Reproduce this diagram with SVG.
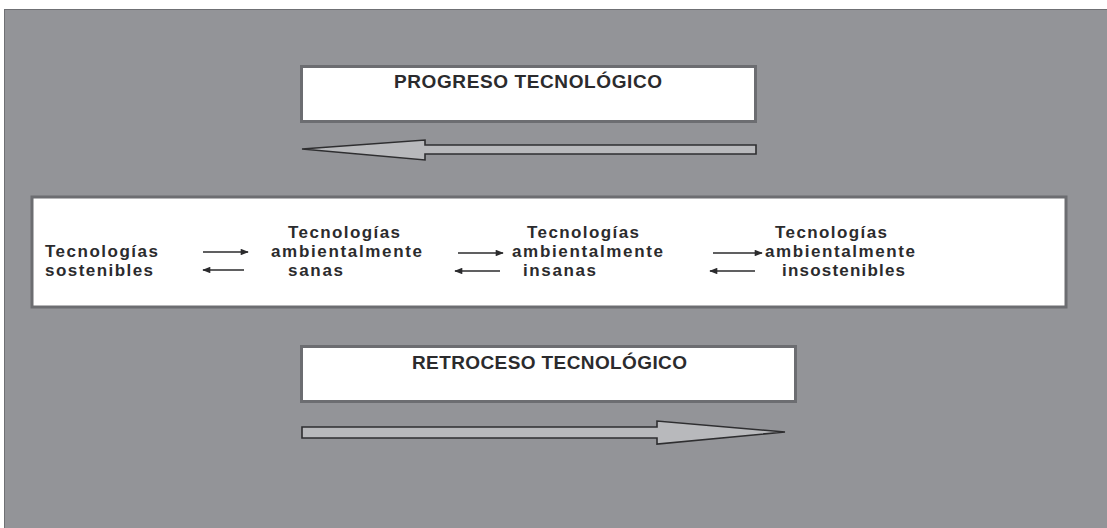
<svg xmlns="http://www.w3.org/2000/svg" width="1107" height="528" viewBox="0 0 1107 528">
<defs>
<style>
.bg{fill:#939498}
.box{fill:#ffffff;stroke:#6c6d71;stroke-width:3}
.big{fill:#b8b9bc;stroke:#2e2e30;stroke-width:1.6;stroke-linejoin:miter}
.t{font-family:"Liberation Sans",Arial,sans-serif;font-weight:bold;font-size:17px;fill:#2b2b2d}
.h{font-family:"Liberation Sans",Arial,sans-serif;font-weight:bold;font-size:19px;fill:#2b2b2d}
.ar{stroke:#2b2b2d;stroke-width:1.5;fill:none}
</style>
<marker id="ah" viewBox="0 0 10 8" refX="9" refY="4" markerWidth="9" markerHeight="6.5" markerUnits="userSpaceOnUse" orient="auto">
<path d="M0,0 L10,4 L0,8 Z" fill="#2b2b2d"/>
</marker>
</defs>
<rect x="0" y="0" width="1107" height="528" fill="#ffffff"/>
<rect class="bg" x="4" y="9" width="1103" height="519"/>
<line x1="4" y1="9.5" x2="1107" y2="9.5" stroke="#6f7074" stroke-width="1"/>
<line x1="4.5" y1="9" x2="4.5" y2="528" stroke="#6f7074" stroke-width="1"/>

<g id="progreso">
<rect class="box" x="301.5" y="66.5" width="454" height="55"/>
<text class="h" x="394" y="88" textLength="268" lengthAdjust="spacing">PROGRESO TECNOLÓGICO</text>
</g>

<g id="retroceso">
<rect class="box" x="301.5" y="346.5" width="494" height="55"/>
<text class="h" x="412" y="369" textLength="275" lengthAdjust="spacing">RETROCESO TECNOLÓGICO</text>
</g>

<g id="cadena">
<rect class="box" x="32" y="197" width="1034" height="110"/>
</g>

<g id="sostenibles">
<text class="t" x="45" y="257" textLength="113" lengthAdjust="spacing">Tecnologías</text>
<text class="t" x="45" y="276" textLength="108" lengthAdjust="spacing">sostenibles</text>
</g>

<g id="sanas">
<text class="t" x="288" y="238" textLength="112" lengthAdjust="spacing">Tecnologías</text>
<text class="t" x="271" y="257" textLength="151" lengthAdjust="spacing">ambientalmente</text>
<text class="t" x="288" y="276" textLength="55" lengthAdjust="spacing">sanas</text>
</g>

<g id="insanas">
<text class="t" x="527" y="238" textLength="112" lengthAdjust="spacing">Tecnologías</text>
<text class="t" x="512" y="257" textLength="151" lengthAdjust="spacing">ambientalmente</text>
<text class="t" x="523" y="276" textLength="73" lengthAdjust="spacing">insanas</text>
</g>

<g id="insostenibles">
<text class="t" x="775" y="238" textLength="112" lengthAdjust="spacing">Tecnologías</text>
<text class="t" x="765" y="257" textLength="150" lengthAdjust="spacing">ambientalmente</text>
<text class="t" x="782" y="276" textLength="123" lengthAdjust="spacing">insostenibles</text>
</g>

<g id="connectors">
<polygon class="big" points="756,145 425,145 425,140 302,149 425,160 425,154 756,154"/>
<polygon class="big" points="302,427 657,427 657,421 785,432 657,444 657,438 302,438"/>
<line class="ar" x1="203" y1="252" x2="248" y2="252" marker-end="url(#ah)"/>
<line class="ar" x1="244" y1="270" x2="203" y2="270" marker-end="url(#ah)"/>
<line class="ar" x1="458" y1="253" x2="503" y2="253" marker-end="url(#ah)"/>
<line class="ar" x1="500" y1="271" x2="455" y2="271" marker-end="url(#ah)"/>
<line class="ar" x1="713" y1="253" x2="762" y2="253" marker-end="url(#ah)"/>
<line class="ar" x1="755" y1="271" x2="710" y2="271" marker-end="url(#ah)"/>
</g>
</svg>
